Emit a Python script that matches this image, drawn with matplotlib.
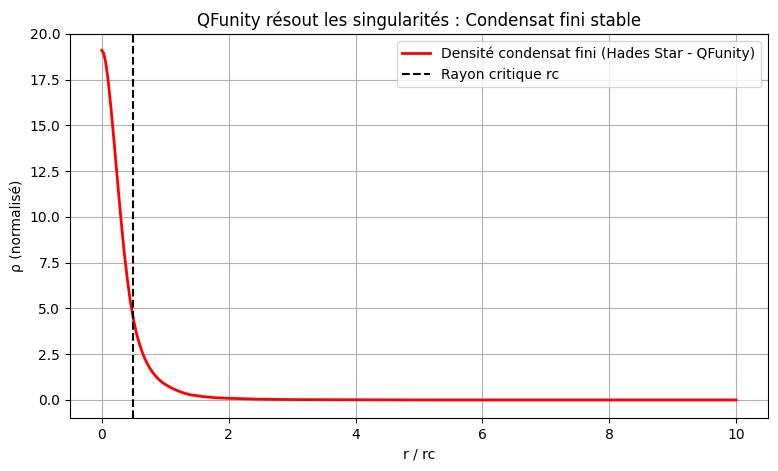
import matplotlib.pyplot as plt

# Values
r = [0, 0.03, 0.06, 0.1, 0.15, 0.2, 0.25, 0.3, 0.35, 0.4, 0.45, 0.5, 0.55,
     0.6, 0.65, 0.7, 0.75, 0.8, 0.85, 0.9, 0.95, 1.0, 1.1, 1.2, 1.3, 1.4,
     1.6, 1.8, 2.0, 2.5, 3.0, 4.0, 5.0, 6.0, 7.0, 8.0, 9.0, 10.0]
rho = [19.1, 18.95, 18.5, 17.5, 15.8, 13.9, 11.9, 10.0, 8.2, 6.7, 5.4, 4.4,
       3.6, 3.0, 2.5, 2.1, 1.78, 1.52, 1.3, 1.12, 0.97, 0.85, 0.65, 0.5,
       0.37, 0.28, 0.18, 0.12, 0.09, 0.04, 0.02, 0.01, 0.0, 0.0, 0.0, 0.0,
       0.0, 0.0]
rc = 0.5

fig = plt.figure(figsize=(7.78, 4.71), dpi=100)
ax = fig.add_subplot(111)
fig.subplots_adjust(left=0.09, right=0.987, top=0.928, bottom=0.112)

ax.plot(r, rho, color='red', linewidth=2, label='Densité condensat fini (Hades Star - QFunity)')
ax.axvline(rc, color='black', linestyle='--', label='Rayon critique rc')
ax.set_xlim(-0.5, 10.5)
ax.set_ylim(-1, 20)
ax.set_title('QFunity résout les singularités : Condensat fini stable')
ax.set_xlabel('r / rc')
ax.set_ylabel('ρ (normalisé)')
ax.grid(True)
ax.legend()
fig.savefig('out.png')
